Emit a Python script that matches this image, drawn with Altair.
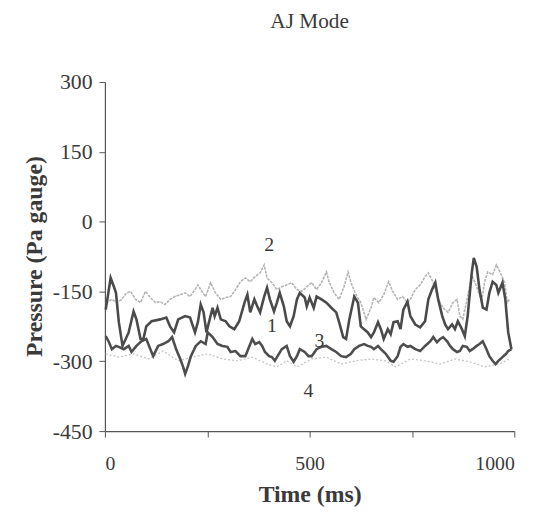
import altair as alt
import pandas as pd

# ---- data (time in ms, pressure in Pa gauge) ----
s1_time = [2, 14, 22, 27, 34, 43, 58, 70, 77, 87, 94, 101, 114, 135, 150, 159, 169, 179, 196, 208,
           220, 227, 234, 241, 248, 263, 268, 275, 283, 295, 304, 316, 328, 341, 348, 355, 365, 372,
           379, 389, 396, 403, 413, 420, 427, 437, 444, 452, 461, 469, 476, 488, 493, 500, 510, 517,
           529, 541, 553, 565, 572, 582, 589, 597, 609, 618, 625, 633, 642, 650, 657, 667, 674, 681,
           691, 698, 705, 715, 722, 729, 739, 746, 758, 770, 782, 790, 799, 807, 814, 824, 831, 838,
           848, 855, 862, 872, 879, 886, 896, 901, 908, 915, 923, 932, 939, 947, 956, 961, 971, 978,
           985, 993]
s1_pressure = [-189, -121, -140, -153, -216, -267, -238, -193, -210, -252, -252, -225, -214, -210, -206,
               -225, -238, -210, -203, -206, -238, -216, -178, -195, -238, -185, -203, -185, -210, -214,
               -225, -231, -214, -174, -157, -195, -167, -182, -195, -161, -142, -167, -193, -174, -153,
               -182, -214, -225, -203, -167, -153, -163, -182, -163, -185, -161, -167, -174, -185, -195,
               -216, -248, -252, -210, -161, -174, -225, -231, -238, -248, -238, -216, -231, -252, -231,
               -242, -216, -214, -231, -189, -172, -203, -221, -227, -214, -167, -146, -131, -167, -203,
               -221, -231, -221, -231, -214, -231, -246, -203, -110, -78, -97, -146, -185, -189, -153,
               -129, -136, -153, -131, -167, -238, -274]

s2_time = [2, 17, 29, 41, 53, 63, 75, 87, 99, 111, 123, 135, 147, 159, 171, 184, 196, 208, 220, 227,
           239, 246, 258, 270, 283, 295, 307, 319, 331, 343, 355, 367, 379, 389, 396, 408, 420, 432,
           444, 456, 469, 481, 493, 505, 517, 529, 541, 548, 560, 572, 584, 594, 601, 613, 625, 638,
           650, 657, 669, 681, 693, 703, 715, 727, 739, 746, 758, 770, 782, 790, 802, 814, 826, 838,
           850, 860, 867, 874, 886, 896, 908, 920, 927, 935, 947, 956, 966, 976, 983, 988]
s2_pressure = [-175, -167, -174, -167, -153, -150, -167, -174, -150, -163, -174, -172, -178, -167, -161,
               -157, -153, -161, -146, -136, -153, -161, -131, -153, -167, -163, -161, -146, -129, -121,
               -129, -118, -110, -93, -121, -131, -146, -140, -136, -131, -146, -150, -140, -131, -146,
               -131, -108, -131, -153, -167, -140, -108, -131, -157, -174, -210, -185, -163, -174, -157,
               -129, -150, -167, -161, -174, -167, -146, -136, -118, -110, -131, -167, -185, -195, -174,
               -167, -203, -210, -161, -114, -140, -172, -131, -108, -114, -93, -110, -131, -174, -167]

s3_time = [2, 10, 17, 27, 34, 46, 58, 65, 77, 89, 101, 111, 118, 130, 142, 155, 164, 174, 184, 191,
           196, 203, 210, 222, 234, 246, 251, 263, 275, 287, 299, 307, 319, 331, 343, 353, 360, 367,
           377, 384, 391, 401, 408, 415, 425, 432, 444, 452, 461, 469, 476, 488, 497, 505, 517, 529,
           541, 553, 565, 577, 589, 601, 609, 621, 633, 642, 650, 657, 667, 674, 686, 698, 705, 715,
           722, 729, 739, 746, 758, 770, 782, 795, 802, 811, 819, 826, 836, 843, 850, 860, 867, 874,
           884, 891, 898, 908, 915, 923, 932, 939, 947, 954, 961, 971, 980, 985, 993]
s3_pressure = [-246, -259, -274, -267, -269, -274, -267, -280, -267, -257, -252, -274, -289, -267, -263,
               -257, -248, -274, -295, -312, -327, -310, -289, -267, -257, -263, -238, -248, -263, -267,
               -269, -280, -278, -289, -289, -267, -252, -263, -259, -267, -280, -289, -291, -299, -284,
               -274, -267, -289, -301, -289, -274, -280, -289, -289, -274, -269, -267, -274, -280, -289,
               -291, -284, -274, -267, -263, -267, -269, -274, -267, -274, -284, -299, -301, -289, -269,
               -263, -269, -267, -274, -278, -267, -257, -248, -259, -252, -248, -257, -267, -274, -280,
               -278, -267, -269, -278, -274, -267, -263, -257, -274, -289, -299, -306, -299, -291, -284,
               -278, -274]

s4_time = [2, 34, 70, 106, 142, 179, 215, 251, 287, 324, 360, 396, 420, 444, 469, 505, 541, 577, 613,
           650, 686, 710, 746, 782, 819, 855, 891, 927, 963, 988]
s4_pressure = [-284, -291, -284, -295, -278, -299, -291, -284, -295, -299, -291, -306, -312, -299, -312,
               -295, -291, -306, -299, -295, -299, -312, -295, -299, -306, -295, -301, -312, -306, -295]

label_text = ["1", "2", "3", "4"]
label_time = [408, 401, 524, 497]
label_pressure = [-225, -51, -257, -365]

x_ticks = [0, 250, 500, 750, 1000]
y_ticks = [300, 150, 0, -150, -300, -450]


def frame(t, p, name):
    return pd.DataFrame({"time": t, "pressure": p, "series": name})


df1 = frame(s1_time, s1_pressure, "1")
df2 = frame(s2_time, s2_pressure, "2")
df3 = frame(s3_time, s3_pressure, "3")
df4 = frame(s4_time, s4_pressure, "4")
labels = pd.DataFrame({"text": label_text, "time": label_time, "pressure": label_pressure})

FONT = "Liberation Serif"

x_enc = alt.X(
    "time:Q",
    scale=alt.Scale(domain=[0, 1000], nice=False, zero=False),
    axis=alt.Axis(
        values=x_ticks,
        labelExpr="datum.value % 500 == 0 ? '' + datum.value : ''",
        title="Time (ms)", labelFontSize=20, labelPadding=17, tickSize=6,
        titleX=207, titleY=64, titleBaseline="middle", titleAlign="center",
    ),
)
y_enc = alt.Y(
    "pressure:Q",
    scale=alt.Scale(domain=[-450, 300], nice=False, zero=False),
    axis=alt.Axis(
        values=y_ticks, labelExpr="'' + datum.value", title="Pressure  (Pa gauge)",
        labelFontSize=22, labelPadding=7, tickSize=6,
        titleX=-71, titleY=176, titleAngle=-90, titleBaseline="middle", titleAlign="center",
    ),
)


def line(df, color, width, dash=None):
    kw = dict(color=color, strokeWidth=width, interpolate="linear")
    if dash:
        kw["strokeDash"] = dash
    return alt.Chart(df).mark_line(**kw).encode(
        x=alt.X("time:Q"), y=alt.Y("pressure:Q"), order="time:Q"
    )


base_light2 = alt.Chart(df2).mark_line(color="#b4b4b4", strokeWidth=1.6, strokeDash=[3, 1]).encode(
    x=x_enc, y=y_enc, order="time:Q"
)
light4 = line(df4, "#c4c4c4", 1.3, [2, 2])
dark3 = line(df3, "#4e4e4e", 2.6)
dark1 = line(df1, "#4a4a4a", 2.6)

text = alt.Chart(labels).mark_text(
    font=FONT, fontSize=20, color="#3a3a3a", align="center", baseline="middle"
).encode(x="time:Q", y="pressure:Q", text="text:N")

chart = alt.layer(base_light2, light4, dark3, dark1, text).properties(
    width=414,
    height=353,
    autosize=alt.AutoSizeParams(type="none"),
    padding={"left": 98, "top": 72, "right": 30, "bottom": 80},
    title=alt.TitleParams(
        "AJ Mode", font=FONT, fontSize=21.5, fontWeight="normal", color="#3a3a3a",
        anchor="middle", baseline="alphabetic", offset=22,
    ),
).configure_view(stroke=None).configure_axis(
    grid=False,
    domainColor="#555555",
    tickColor="#555555",
    domainWidth=1.2,
    labelFont=FONT,
    labelColor="#3a3a3a",
    titleFont=FONT,
    titleFontSize=24,
    titleFontWeight="bold",
    titleColor="#3a3a3a",
)

chart.save("out.html", embed_options={"renderer": "svg", "actions": False})
